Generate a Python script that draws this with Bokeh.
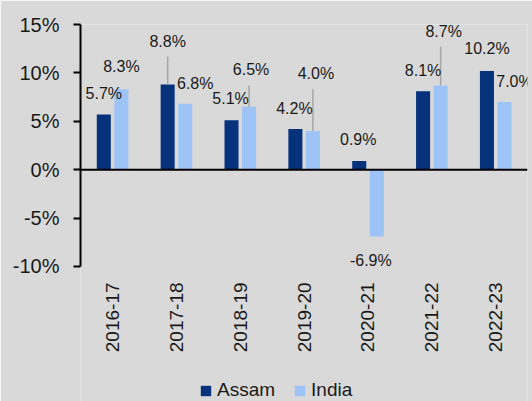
from bokeh.plotting import figure
from bokeh.models import (ColumnDataSource, FactorRange, Range1d, FixedTicker,
                          PrintfTickFormatter, Span, Legend, LegendItem)
from bokeh.transform import dodge
from bokeh.core.properties import value
from bokeh.embed import file_html
from bokeh.resources import INLINE
import math

# ---- data ----
years = ["2016-17", "2017-18", "2018-19", "2019-20", "2020-21", "2021-22", "2022-23"]
assam = [5.7, 8.8, 5.1, 4.2, 0.9, 8.1, 10.2]
india = [8.3, 6.8, 6.5, 4.0, -6.9, 8.7, 7.0]
y_ticks = [-10, -5, 0, 5, 10, 15]
series_names = ["Assam", "India"]

# ---- label styling (pixel offsets from bar tops) ----
assam_dx = [0, 0, -1, -1, -1, 0, 0]
assam_dy = [-21, -43, -22, -21, -21, -21, -22]
india_dx = [0, 10, 2, 3, -6, 3, 10]
india_dy = [-23, -20, -37, -57, 24, -54, -20]
# leader lines: (series, index, length in value units)
leaders = [("a", 1, 2.9), ("i", 2, 2.2), ("i", 3, 4.3), ("i", 5, 4.0)]

FONT = "Liberation Sans"
TXT = "#1a1a1a"
BG = "#D9D9D9"
C_ASSAM = "#06317B"
C_INDIA = "#9EC3F7"

def fmt(v):
    return f"{v:.1f}%"

src = ColumnDataSource(dict(
    year=years, assam=assam, india=india,
    alab=[fmt(v) for v in assam], ilab=[fmt(v) for v in india],
    adx=assam_dx, ady=assam_dy, idx=india_dx, idy=india_dy,
    ybase=[min(y_ticks)] * len(years),
))

# frame runs to the bottom of the canvas; the value axis is bounded to -10..15
p = figure(width=532, height=401, x_range=FactorRange(*years, range_padding=0),
           y_range=Range1d(-23.95, 15), output_backend="svg", toolbar_location=None,
           min_border_left=80, min_border_right=5, min_border_top=24,
           min_border_bottom=0)
p.background_fill_color = BG
p.border_fill_color = BG
p.outline_line_color = None
p.xgrid.grid_line_color = None
p.ygrid.grid_line_color = None

OFF_A, OFF_I, W = -0.135, 0.14, 0.22
ra = p.vbar(x=dodge("year", OFF_A, range=p.x_range), top="assam", bottom=0, width=W,
            source=src, fill_color=C_ASSAM, line_color=None)
ri = p.vbar(x=dodge("year", OFF_I, range=p.x_range), top="india", bottom=0, width=W,
            source=src, fill_color=C_INDIA, line_color=None)

# leader lines
for s, i, ln in leaders:
    off = OFF_A if s == "a" else OFF_I
    vals = assam if s == "a" else india
    p.segment(x0=dodge("yr", off, range=p.x_range), x1=dodge("yr", off, range=p.x_range),
              y0="y0", y1="y1",
              source=ColumnDataSource(dict(yr=[years[i]], y0=[vals[i]], y1=[vals[i] + ln])),
              line_color="#A6A6A6", line_width=1.5)

p.add_layout(Span(location=0, dimension="width", line_color="black", line_width=2))

p.text(x=dodge("year", OFF_A, range=p.x_range), y="assam", text="alab", source=src,
       x_offset="adx", y_offset="ady", text_align="center", text_baseline="middle",
       text_font=value(FONT), text_font_size="16px", text_color=TXT)
p.text(x=dodge("year", OFF_I, range=p.x_range), y="india", text="ilab", source=src,
       x_offset="idx", y_offset="idy", text_align="center", text_baseline="middle",
       text_font=value(FONT), text_font_size="16px", text_color=TXT)

# category labels (rotated, under the -10% level)
p.text(x="year", y="ybase", text="year", source=src, angle=math.pi / 2,
       y_offset=16, text_align="right", text_baseline="middle",
       text_font=value(FONT), text_font_size="19px", text_color=TXT)

# y axis
ya = p.yaxis[0]
ya.bounds = (min(y_ticks), max(y_ticks))
ya.ticker = FixedTicker(ticks=y_ticks)
ya.formatter = PrintfTickFormatter(format="%d%%")
ya.axis_line_color = "black"
ya.axis_line_width = 2
ya.major_tick_line_color = "black"
ya.major_tick_line_width = 2
ya.major_tick_out = 7
ya.major_tick_in = 0
ya.minor_tick_line_color = None
ya.major_label_standoff = 14
ya.major_label_text_font = FONT
ya.major_label_text_font_size = "20px"
ya.major_label_text_color = TXT

p.xaxis.visible = False

legend = Legend(items=[LegendItem(label=series_names[0], renderers=[ra]),
                       LegendItem(label=series_names[1], renderers=[ri])],
                orientation="horizontal", location=(119, 0),
                glyph_width=13, glyph_height=13, label_standoff=5, spacing=18,
                padding=0, margin=0, border_line_color=None,
                background_fill_alpha=0,
                label_text_font=FONT, label_text_font_size="19px",
                label_text_color=TXT)
p.add_layout(legend, "center")

open("out.html", "w").write(file_html(p, INLINE))
